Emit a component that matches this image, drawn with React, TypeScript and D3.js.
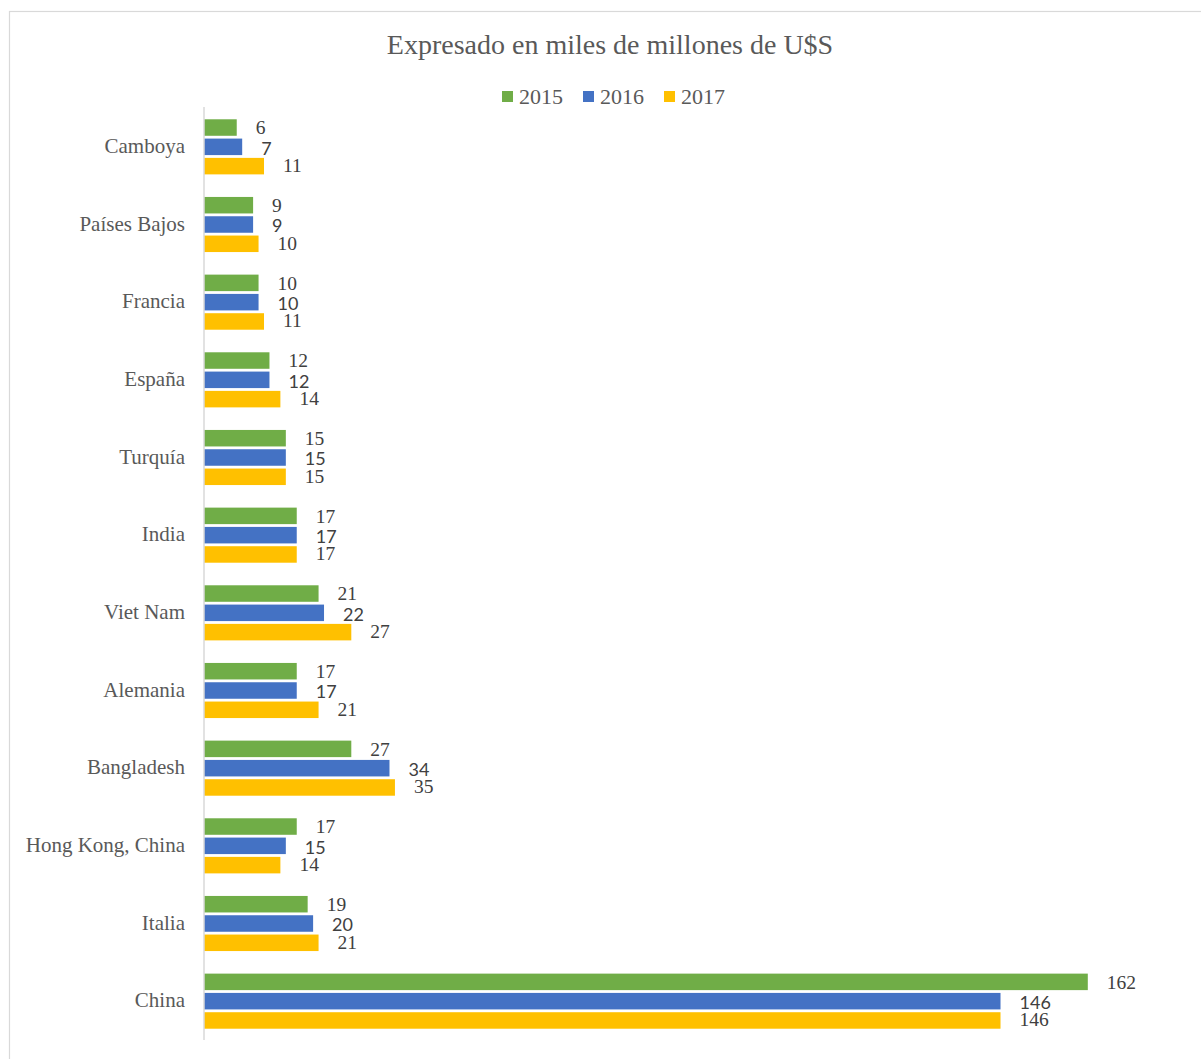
import React from "react";
import * as d3 from "d3";

const categories = [
  "Camboya",
  "Países Bajos",
  "Francia",
  "España",
  "Turquía",
  "India",
  "Viet Nam",
  "Alemania",
  "Bangladesh",
  "Hong Kong, China",
  "Italia",
  "China",
];
const years = ["2015", "2016", "2017"];
const values2015 = [6, 9, 10, 12, 15, 17, 21, 17, 27, 17, 19, 162];
const values2016 = [7, 9, 10, 12, 15, 17, 22, 17, 34, 15, 20, 146];
const values2017 = [11, 10, 11, 14, 15, 17, 27, 21, 35, 14, 21, 146];
const seriesValues = [values2015, values2016, values2017];
const colors = ["#70AD47", "#4472C4", "#FFC000"];
const title = "Expresado en miles de millones de U$S";

const W = 1201;
const H = 1059;
const serif = "'Liberation Serif', 'Times New Roman', serif";
const sans = "Lato, 'Open Sans', sans-serif";

export default function App() {
  const x = d3.scaleLinear().domain([0, 180]).range([204, 1186]);
  const y = d3.scaleBand<string>().domain(categories).range([108, 1040]).paddingInner(0);
  const step = 19.3;
  const barH = 16.5;
  const labelShift = [0, 1.5, -1];

  const legendX = [502, 583, 664];

  return (
    <>
      <style>{`body{margin:0;overflow:hidden;}`}</style>
      <svg width={W} height={H} style={{ display: "block" }}>
        <rect x={0} y={0} width={W} height={H} fill="#ffffff" />
        <rect x={9.5} y={11.5} width={1400} height={1400} fill="none" stroke="#d9d9d9" strokeWidth={1.2} />
        <text x={610} y={54} textAnchor="middle" fontFamily={serif} fontSize={28} fill="#595959">
          {title}
        </text>
        {years.map((yr, i) => (
          <g key={yr}>
            <rect x={legendX[i]} y={91} width={11} height={11} fill={colors[i]} />
            <text x={legendX[i] + 17} y={104} fontFamily={serif} fontSize={22} fill="#595959">
              {yr}
            </text>
          </g>
        ))}
        {categories.map((c, ci) => {
          const cy = (y(c) as number) + y.bandwidth() / 2;
          return (
            <g key={c}>
              <text
                x={185}
                y={cy}
                dy="0.3em"
                textAnchor="end"
                fontFamily={serif}
                fontSize={21}
                fill="#595959"
              >
                {c}
              </text>
              {seriesValues.map((vals, si) => {
                const by = cy + (si - 1) * step;
                const v = vals[ci];
                return (
                  <g key={si}>
                    <rect
                      x={x(0)}
                      y={by - barH / 2}
                      width={x(v) - x(0)}
                      height={barH}
                      fill={colors[si]}
                    />
                    <text
                      x={x(v) + 19}
                      y={by + labelShift[si]}
                      dy="0.35em"
                      fontFamily={si === 1 ? sans : serif}
                      fontSize={si === 1 ? 18 : 19.5}
                      fill="#404040"
                    >
                      {v}
                    </text>
                  </g>
                );
              })}
            </g>
          );
        })}
        <line x1={204} x2={204} y1={107} y2={1040} stroke="#d9d9d9" strokeWidth={1.5} />
      </svg>
    </>
  );
}
